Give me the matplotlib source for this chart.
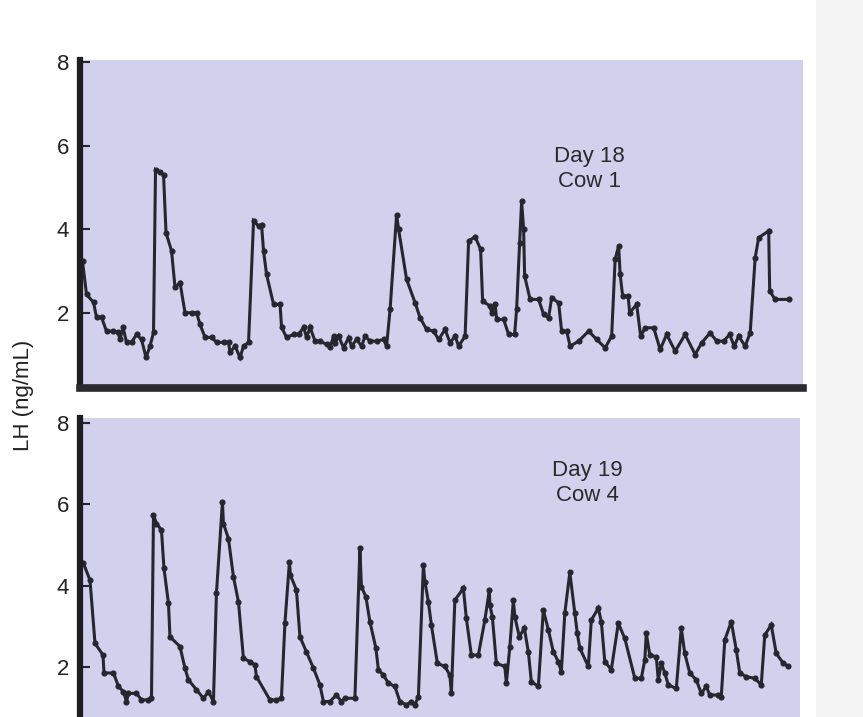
import numpy as np
import matplotlib.pyplot as plt
from matplotlib.patches import Rectangle

plt.rcParams['font.family'] = ['Liberation Sans', 'DejaVu Sans']

# Day 18, cow 1: sampling time (min) and LH (ng/mL)
t_cow1 = [5, 13, 27, 33, 43, 53, 66, 76, 80, 86, 93, 103, 113, 123, 132, 140, 147,
          151, 160, 167, 172, 183, 190, 200, 210, 223, 233, 240, 250, 263, 273, 287,
          297, 300, 310, 320, 327, 337, 347, 357, 363, 367, 373, 387, 400, 403, 413,
          427, 437, 447, 453, 460, 470, 480, 493, 500, 507, 510, 517, 527, 537, 543,
          553, 563, 570, 580, 593, 607, 613, 620, 633, 637, 653, 670, 680, 693, 707,
          717, 730, 740, 750, 757, 770, 777, 790, 801, 805, 820, 823, 830, 833, 847,
          857, 869, 873, 879, 883, 887, 889, 900, 917, 927, 937, 943, 957, 963, 973,
          980, 997, 1017, 1033, 1050, 1063, 1070, 1077, 1080, 1085, 1096, 1099, 1113,
          1121, 1130, 1147, 1160, 1173, 1190, 1210, 1230, 1243, 1260, 1273, 1287,
          1299, 1308, 1317, 1330, 1340, 1350, 1357, 1377, 1379, 1390, 1417]
lh_cow1 = [3.24, 2.44, 2.25, 1.89, 1.89, 1.56, 1.56, 1.53, 1.36, 1.65, 1.29, 1.29,
           1.48, 1.36, 0.93, 1.20, 1.53, 5.43, 5.37, 5.31, 3.92, 3.48, 2.61, 2.72,
           2.00, 2.00, 2.00, 1.72, 1.41, 1.41, 1.29, 1.29, 1.29, 1.05, 1.20, 0.93,
           1.20, 1.29, 4.20, 4.08, 4.11, 3.48, 2.92, 2.20, 2.20, 1.65, 1.41, 1.48,
           1.48, 1.65, 1.41, 1.65, 1.32, 1.32, 1.24, 1.17, 1.44, 1.28, 1.44, 1.16,
           1.40, 1.20, 1.36, 1.20, 1.44, 1.32, 1.32, 1.36, 1.20, 2.08, 4.35, 4.00,
           2.80, 2.24, 1.88, 1.60, 1.56, 1.36, 1.60, 1.28, 1.44, 1.20, 1.44, 3.72,
           3.82, 3.52, 2.28, 2.16, 2.00, 2.20, 1.84, 1.84, 1.48, 1.48, 2.08, 3.68,
           4.67, 4.00, 2.88, 2.32, 2.32, 1.96, 1.88, 2.36, 2.24, 1.56, 1.56, 1.20,
           1.32, 1.56, 1.36, 1.16, 1.44, 3.28, 3.60, 2.92, 2.40, 2.40, 2.00, 2.20,
           1.44, 1.64, 1.64, 1.12, 1.48, 1.08, 1.48, 1.00, 1.28, 1.52, 1.32, 1.32,
           1.48, 1.20, 1.44, 1.20, 1.52, 3.32, 3.80, 3.96, 2.52, 2.32, 2.32]

# Day 19, cow 4
t_cow4 = [0, 7, 20, 30, 46, 48, 67, 77, 87, 93, 97, 113, 123, 137, 143, 147, 153,
          163, 168, 177, 180, 200, 210, 217, 233, 247, 257, 267, 273, 285, 287, 297,
          307, 317, 327, 340, 350, 353, 380, 393, 403, 410, 419, 421, 433, 440, 453,
          467, 480, 487, 500, 513, 523, 530, 550, 560, 563, 572, 580, 592, 597, 607,
          617, 630, 640, 653, 663, 670, 677, 687, 690, 697, 703, 715, 730, 740, 743,
          750, 767, 773, 783, 797, 810, 819, 820, 825, 833, 850, 853, 860, 867, 870,
          879, 889, 897, 903, 917, 927, 937, 947, 957, 963, 970, 980, 990, 995, 1000,
          1017, 1023, 1037, 1043, 1050, 1063, 1077, 1090, 1110, 1123, 1130, 1133,
          1140, 1153, 1157, 1163, 1170, 1177, 1193, 1203, 1210, 1220, 1233, 1243,
          1253, 1260, 1277, 1283, 1290, 1303, 1313, 1320, 1333, 1350, 1363, 1370,
          1383, 1393, 1407, 1417]
lh_cow4 = [4.57, 4.55, 4.14, 2.59, 2.30, 1.86, 1.86, 1.53, 1.40, 1.16, 1.36, 1.36,
           1.20, 1.20, 1.24, 5.74, 5.53, 5.37, 4.43, 3.57, 2.75, 2.51, 1.98, 1.69,
           1.45, 1.24, 1.40, 1.16, 3.82, 6.06, 5.53, 5.16, 4.22, 3.61, 2.22, 2.14,
           2.06, 1.77, 1.20, 1.20, 1.24, 3.08, 4.59, 4.26, 3.90, 2.75, 2.38, 1.98,
           1.57, 1.16, 1.16, 1.32, 1.16, 1.24, 1.24, 4.92, 3.98, 3.73, 3.12, 2.47,
           1.94, 1.81, 1.61, 1.53, 1.16, 1.08, 1.16, 1.08, 1.28, 4.51, 4.10, 3.61,
           3.04, 2.10, 2.02, 1.81, 1.36, 3.65, 3.94, 3.20, 2.30, 2.30, 3.16, 3.90,
           3.53, 3.24, 2.10, 2.02, 1.61, 2.51, 3.65, 3.24, 2.75, 2.96, 2.38, 1.65,
           1.53, 3.41, 2.92, 2.38, 2.14, 1.89, 3.33, 4.33, 3.33, 2.83, 2.47, 2.02,
           3.16, 3.45, 3.12, 2.14, 1.94, 3.08, 2.71, 1.73, 1.73, 2.18, 2.83, 2.30,
           2.26, 1.69, 2.10, 1.86, 1.57, 1.48, 2.96, 2.34, 1.86, 1.69, 1.36, 1.53,
           1.32, 1.32, 1.28, 2.67, 3.12, 2.43, 1.86, 1.77, 1.73, 1.57, 2.79, 3.04,
           2.34, 2.10, 2.02]

panel_labels = ['Day 18\nCow 1', 'Day 19\nCow 4']
y_ticks = [2, 4, 6, 8]

panel_bg = '#d1d1ee'
ink = '#26262e'

fig = plt.figure(figsize=(8.63, 7.17), dpi=100)
fig.patch.set_facecolor('white')

# faint page shadow on the right edge
fig.patches.append(Rectangle((0.945, 0), 0.055, 1, transform=fig.transFigure,
                             facecolor='#f4f4f4', edgecolor='none', zorder=0))

ax1 = fig.add_axes([0.0927, 0.459, 0.838, 0.457])
ax2 = fig.add_axes([0.0927, 0.0, 0.834, 0.417])

for ax, t, lh, label, ylim, xlim, ty in [
        (ax1, t_cow1, lh_cow1, panel_labels[0], (0.2, 8.05), (0, 1446), 0.668),
        (ax2, t_cow4, lh_cow4, panel_labels[1], (0.78, 8.12), (0, 1440), 0.783)]:
    ax.set_facecolor(panel_bg)
    ax.plot(t, lh, color=ink, lw=2.2, marker='o', ms=3.4, mfc=ink, mec=ink,
            solid_joinstyle='miter')
    ax.set_xlim(*xlim)
    ax.set_ylim(*ylim)
    ax.set_yticks(y_ticks)
    ax.set_xticks([])
    ax.tick_params(axis='y', direction='in', length=7, width=1.5, color=ink,
                   labelsize=16, labelcolor='#222222', pad=8)
    for side in ['top', 'right']:
        ax.spines[side].set_visible(False)
    ax.spines['left'].set_linewidth(4.5)
    ax.spines['left'].set_color('#1e1e22')
    ax.text(0.705, ty, label, transform=ax.transAxes, ha='center', va='center',
            fontsize=16, color='#2a2a2a', linespacing=1.25)

ax1.spines['bottom'].set_linewidth(5.5)
ax1.spines['bottom'].set_color('#2a2a30')
ax2.spines['bottom'].set_visible(False)

fig.text(0.027, 1 - 395 / 717, 'LH (ng/mL)', rotation=90, ha='center', va='center',
         fontsize=16, color='#222222')

fig.savefig('out.png', dpi=100)
